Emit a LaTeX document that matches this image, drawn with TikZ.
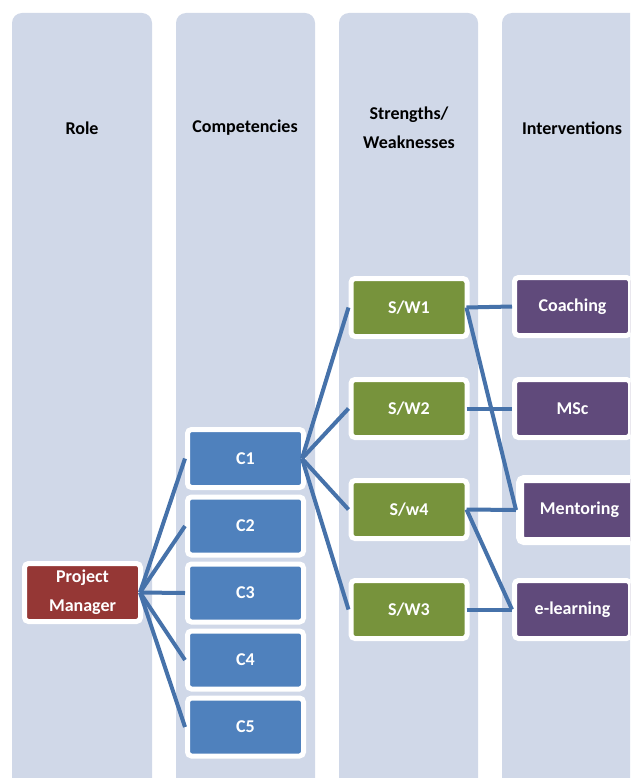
\documentclass[tikz,border=0pt]{standalone}
\usepackage{fontspec}
\setmainfont{Carlito}
\definecolor{colbg}{HTML}{D0D8E8}
\definecolor{pmred}{HTML}{953735}
\definecolor{cblue}{HTML}{4F81BD}
\definecolor{swgreen}{HTML}{77933C}
\definecolor{ivpurple}{HTML}{604A7B}
\definecolor{linkc}{HTML}{4672AA}
\begin{document}
\begin{tikzpicture}[x=1pt,y=-1pt,
  column/.style={fill=colbg,rounded corners=10pt},
  header/.style={font=\fontsize{18}{29}\selectfont\bfseries,align=center,text=black},
  box/.style={draw=white,line width=5pt,rounded corners=4pt,minimum width=116pt,minimum height=58pt,
    font=\fontsize{18}{29}\selectfont\bfseries,text=white,align=center,inner sep=0pt},
  pmbox/.style={box,fill=pmred},
  cbox/.style={box,fill=cblue},
  swbox/.style={box,fill=swgreen},
  ivbox/.style={box,fill=ivpurple},
  link/.style={draw=linkc,line width=4pt}]
\useasboundingbox (0,0) rectangle (630,778);
\clip (0,0) rectangle (630,778);
\fill[white] (0,0) rectangle (630,778);
% columns
\fill[column] (12,13) rectangle (152,810);
\fill[column] (176,13) rectangle (315,810);
\fill[column] (339,13) rectangle (478,810);
\fill[column] (502,13) rectangle (641,810);
% headers
\node[header] (hrole) at (82,128) {Role};
\node[header] (hcomp) at (245,128) {Competencies};
\node[header] (hsw) at (409,128) {Strengths/\\Weaknesses};
\node[header] (hint) at (572,128) {Interventions};
% nodes
\node[pmbox] (pm) at (82.5,592.5) {Project\\Manager};
\node[cbox] (c1) at (245.5,458.5) {C1};
\node[cbox] (c2) at (245.5,526) {C2};
\node[cbox] (c3) at (245.5,593) {C3};
\node[cbox] (c4) at (245.5,660) {C4};
\node[cbox] (c5) at (245.5,727) {C5};
\node[swbox] (sw1) at (409,307.5) {S/W1};
\node[swbox] (sw2) at (409,408.5) {S/W2};
\node[swbox] (sw4) at (409,509.5) {S/w4};
\node[swbox] (sw3) at (409,609.5) {S/W3};
\node[ivbox] (coach) at (572.5,306.5) {Coaching};
\node[ivbox] (msc) at (572.5,408.5) {MSc};
\node[ivbox,line width=8pt,minimum width=119pt,minimum height=62pt] (ment) at (579.5,510) {Mentoring};
\node[ivbox] (elearn) at (572.5,609.5) {e-learning};
% connectors
\foreach \c in {c1,c2,c3,c4,c5}
  \draw[link] ([xshift=-3pt]pm.east) -- (\c.west);
\foreach \s in {sw1,sw2,sw4,sw3}
  \draw[link] ([xshift=-4pt]c1.east) -- (\s.west);
\draw[link] ([xshift=-3pt]sw1.east) -- (coach.west);
\draw[link] ([xshift=-3pt]sw1.east) -- (ment.west);
\draw[link] ([xshift=-3pt]sw2.east) -- (msc.west);
\draw[link] ([xshift=-3pt]sw4.east) -- (ment.west);
\draw[link] ([xshift=-3pt]sw4.east) -- (elearn.west);
\draw[link] ([xshift=-3pt]sw3.east) -- (elearn.west);
\end{tikzpicture}
\end{document}
